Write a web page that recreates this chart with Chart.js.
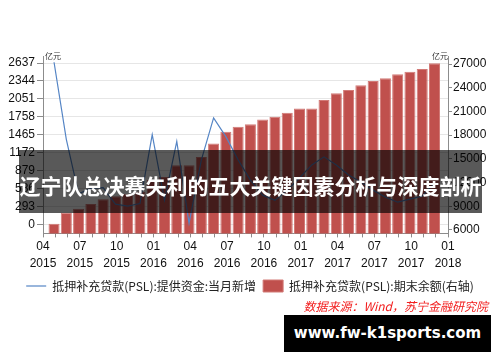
<!DOCTYPE html>
<html>
<head>
<meta charset="utf-8">
<script src="https://cdn.jsdelivr.net/npm/chart.js@4.4.1/dist/chart.umd.min.js"></script>
<style>
  body { margin: 0; background: #fff; }
  #wrap { position: relative; width: 500px; height: 362px; overflow: hidden; }
  .unit { position: absolute; top: 50px; font: 8px "Noto Sans CJK SC", sans-serif; color: #333; }
  #banner {
    position: absolute; left: 19px; top: 150px; width: 463px; height: 63px;
    background: rgba(0, 0, 0, 0.65); color: #fff; text-align: center;
    font: bold 21px/63px "Noto Sans CJK SC", sans-serif; padding-top: 4px; box-sizing: border-box;
    white-space: nowrap; letter-spacing: 0;
  }
  #src {
    position: absolute; right: 12px; top: 297px; color: #f21d1d;
    font: italic 12px "Noto Sans CJK SC", sans-serif;
  }
  #wm {
    position: absolute; left: 284px; top: 315px; width: 207px; height: 37px;
    background: #000; color: #fff; text-align: center;
    font: bold 15px/37px "DejaVu Sans", sans-serif;
  }
</style>
</head>
<body>
<div id="wrap">
  <canvas id="c" width="500" height="362"></canvas>
  <div class="unit" style="left:45px">亿元</div>
  <div class="unit" style="left:432px">亿元</div>
  <div id="banner">辽宁队总决赛失利的五大关键因素分析与深度剖析</div>
  <div id="src">数据来源：Wind，苏宁金融研究院</div>
  <div id="wm">www.fw-k1sports.com</div>
</div>
<script>
// 月份 (期末)
const months = [
  '2015-04', '2015-05', '2015-06', '2015-07', '2015-08', '2015-09', '2015-10', '2015-11', '2015-12',
  '2016-01', '2016-02', '2016-03', '2016-04', '2016-05', '2016-06', '2016-07', '2016-08', '2016-09',
  '2016-10', '2016-11', '2016-12', '2017-01', '2017-02', '2017-03', '2017-04', '2017-05', '2017-06',
  '2017-07', '2017-08', '2017-09', '2017-10', '2017-11'
];
// 当月新增 (亿元, 左轴)
const newLoans = [
  2650, 1390, 500, 590, 600, 330, 300, 340, 1467, 395, 1356, 21, 1050, 1742, 1434, 1055,
  725, 478, 395, 560, 758, 972, 1104, 972, 807, 692, 560, 445, 363, 412, 461, 676
];
// 期末余额 (亿元, 右轴)
const balance = [
  6787, 8183, 8690, 9274, 9870, 10250, 10550, 10840, 12310, 12700, 14185, 14185, 15238, 16939, 18411, 19045,
  19388, 19984, 20314, 20822, 21380, 21380, 22433, 23284, 23703, 24300, 24845, 25187, 25695, 26025, 26368, 27091
];
const xTickLabels = [
  ['04', '2015'], ['07', '2015'], ['10', '2015'], ['01', '2016'], ['04', '2016'], ['07', '2016'],
  ['10', '2016'], ['01', '2017'], ['04', '2017'], ['07', '2017'], ['10', '2017'], ['01', '2018']
];
const leftTicks = [0, 293, 586, 879, 1172, 1465, 1758, 2051, 2344, 2637];
const rightTicks = [6000, 9000, 12000, 15000, 18000, 21000, 24000, 27000];

// 从2015年4月起的月序号, 取月末位置
function monthPos(m) {
  const [y, mo] = m.split('-').map(Number);
  return (y - 2015) * 12 + (mo - 4) + 0.9;
}

const axisColor = '#8c8c8c';
const tickFont = { family: '"Liberation Sans", Arial, sans-serif', size: 12 };

new Chart(document.getElementById('c'), {
  data: {
    datasets: [
      {
        type: 'line',
        label: '抵押补充贷款(PSL):提供资金:当月新增',
        data: months.map((m, i) => ({ x: monthPos(m), y: newLoans[i] })),
        yAxisID: 'y',
        borderColor: '#5585c5',
        backgroundColor: '#5585c5',
        borderWidth: 1.2,
        pointRadius: 0,
        pointStyle: 'line',
        tension: 0,
        order: 0
      },
      {
        type: 'bar',
        label: '抵押补充贷款(PSL):期末余额(右轴)',
        data: months.map((m, i) => ({ x: monthPos(m), y: balance[i] })),
        yAxisID: 'y1',
        backgroundColor: '#c0504d',
        borderColor: '#d27a77',
        borderWidth: 1,
        pointStyle: 'rect',
        categoryPercentage: 1,
        barPercentage: 0.9,
        order: 1
      }
    ]
  },
  options: {
    responsive: false,
    animation: false,
    devicePixelRatio: 1,
    layout: { padding: { top: 56, left: 0, right: 0, bottom: 60 } },
    plugins: {
      tooltip: { enabled: false },
      legend: {
        position: 'bottom',
        labels: {
          usePointStyle: true,
          pointStyleWidth: 20,
          boxHeight: 12,
          padding: 7,
          color: '#222',
          font: { family: '"Noto Sans CJK SC", sans-serif', size: 12 }
        }
      }
    },
    scales: {
      x: {
        type: 'linear',
        min: 0,
        max: 33,
        offset: false,
        afterBuildTicks: s => { s.ticks = Array.from({ length: 34 }, (_, i) => ({ value: i })); },
        ticks: {
          autoSkip: false,
          maxRotation: 0,
          padding: 1,
          color: '#111',
          font: { ...tickFont, lineHeight: 1.4 },
          callback: v => (v % 3 === 0 ? xTickLabels[v / 3] : '')
        },
        grid: { drawOnChartArea: false, offset: false, tickLength: 4, tickColor: axisColor },
        border: { color: axisColor }
      },
      y: {
        position: 'left',
        min: -147,
        max: 2752,
        afterBuildTicks: s => { s.ticks = leftTicks.map(v => ({ value: v })); },
        afterFit: s => { s.width = 43; },
        ticks: { padding: 2, color: '#111', font: tickFont, callback: v => String(v) },
        grid: { color: '#e6e6e6', tickColor: axisColor, tickLength: 6 },
        border: { color: axisColor }
      },
      y1: {
        position: 'right',
        min: 5556,
        max: 28015,
        afterBuildTicks: s => { s.ticks = rightTicks.map(v => ({ value: v })); },
        afterFit: s => { s.width = 52; },
        ticks: { padding: 1, color: '#111', font: tickFont, callback: v => String(v) },
        grid: { drawOnChartArea: false, tickColor: axisColor, tickLength: 4 },
        border: { color: axisColor }
      }
    }
  }
});
</script>
</body>
</html>
